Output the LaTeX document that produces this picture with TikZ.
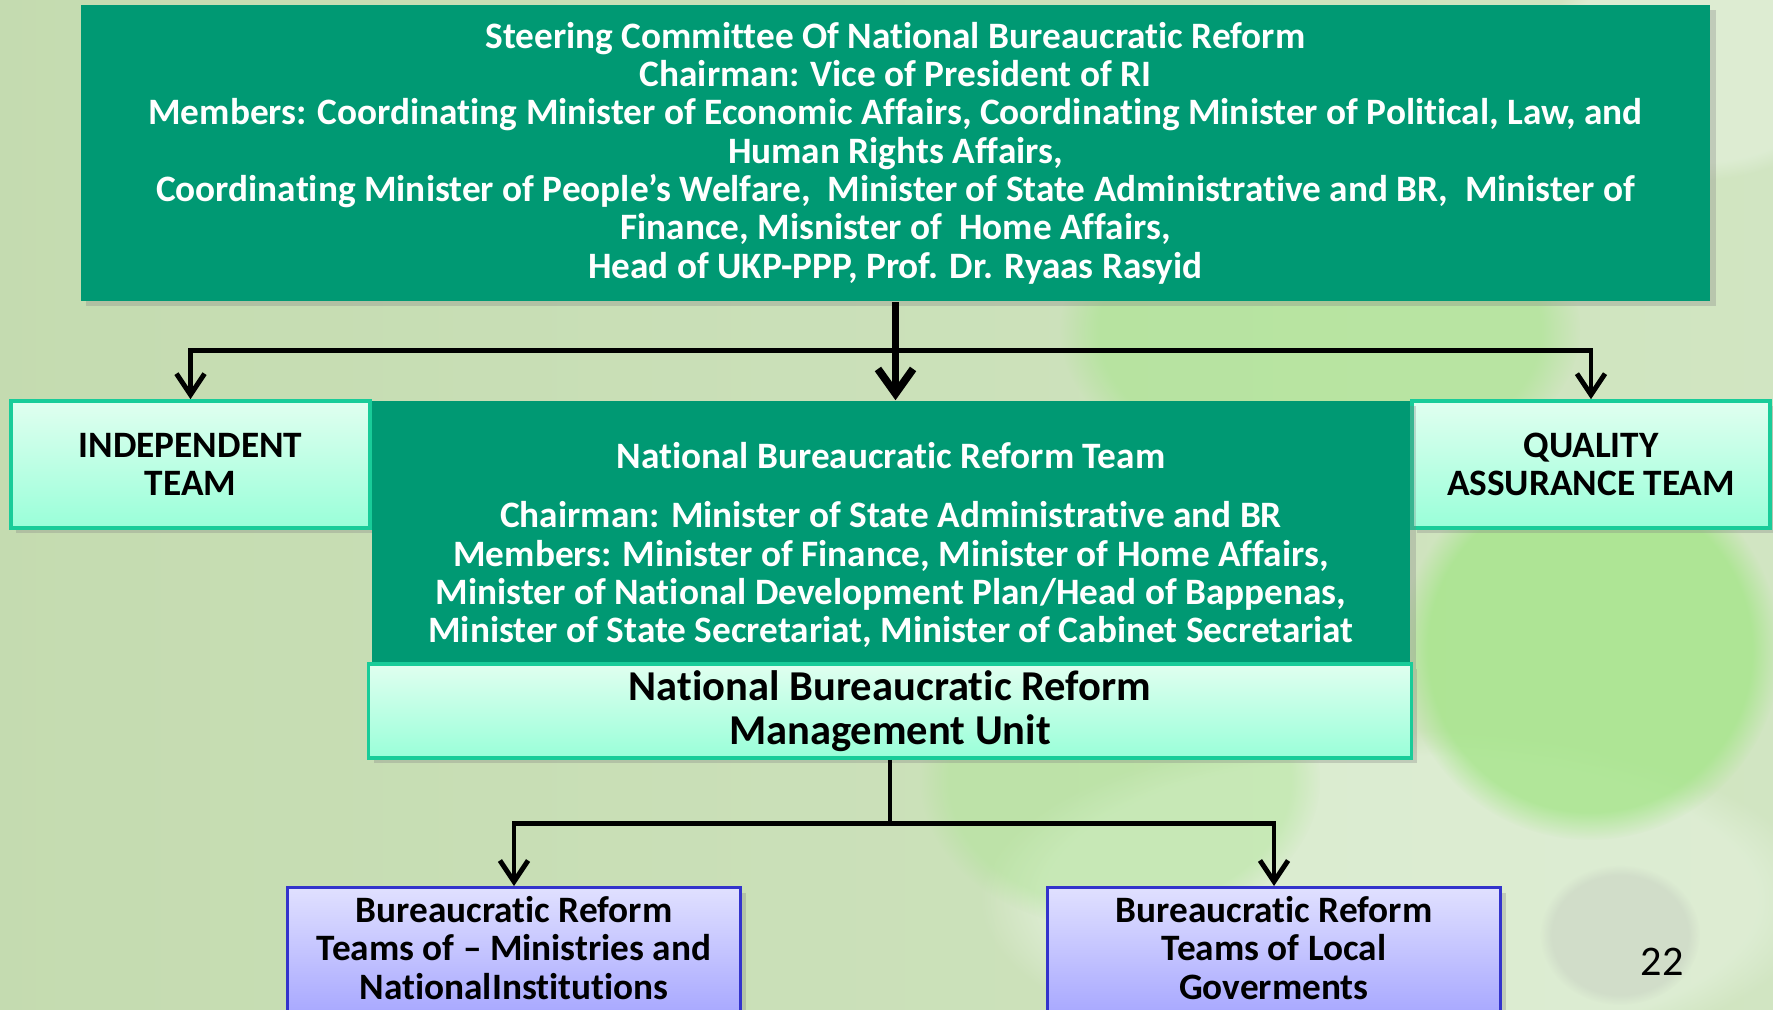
\documentclass[tikz,border=0pt]{standalone}
\usepackage{fontspec}
\setmainfont{Carlito}[Ligatures=NoCommon]
\usetikzlibrary{arrows.meta,shadows,fadings,calc}
\definecolor{darkg}{rgb}{0,0.6,0.45}
\definecolor{mintt}{rgb}{0.88,1,0.94}
\definecolor{mintb}{rgb}{0.6,1,0.85}
\definecolor{mintl}{rgb}{0.1,0.8,0.6}
\definecolor{lilact}{rgb}{0.88,0.88,1}
\definecolor{lilacb}{rgb}{0.6,0.6,1}
\definecolor{lilacl}{rgb}{0.2,0.2,0.8}
\definecolor{bgleft}{rgb}{0.77,0.86,0.69}
\definecolor{bgright}{rgb}{0.82,0.9,0.76}
\definecolor{leafg}{rgb}{0.64,0.9,0.53}
\definecolor{palew}{rgb}{0.9,0.95,0.87}
\definecolor{shadowp}{rgb}{0.58,0.55,0.6}

\tikzset{
  boxshadow/.style={drop shadow={opacity=0.3,shadow xshift=1.5pt,shadow yshift=-1.5pt}},
  greenbox/.style={rectangle,fill=darkg,text=white,align=center,inner sep=0pt,boxshadow},
  mintbox/.style={rectangle,draw=mintl,line width=1pt,top color=mintt,bottom color=mintb,
    align=center,inner sep=0pt,font=\bfseries\fontsize{10.6}{10.9}\selectfont,boxshadow},
  lilacbox/.style={rectangle,draw=lilacl,line width=0.8pt,top color=lilact,bottom color=lilacb,
    inner sep=0pt,boxshadow},
  boxtext/.style={align=center,inner sep=0pt,font=\bfseries\fontsize{10.6}{10.9}\selectfont},
  link/.style={line width=1.4pt,-{Straight Barb[length=6pt,width=8pt]}},
  mainlink/.style={line width=2.2pt,-{Straight Barb[length=7pt,width=10pt]}}
}

\begin{document}
\begin{tikzpicture}[x=0.01cm,y=-0.01cm]
% background with blurred leaves
\fill[left color=bgleft,right color=bgright] (0,0) rectangle (1773,1009);
\useasboundingbox (0,0) rectangle (1773,1009);
\fill[palew,opacity=0.6,path fading=circle with fuzzy edge 15 percent] (1400,900) ellipse (420 and 170);
\fill[palew,opacity=0.6,path fading=circle with fuzzy edge 15 percent] (1700,60) ellipse (160 and 120);
\fill[leafg,opacity=0.75,path fading=circle with fuzzy edge 15 percent] (1590,650) ellipse (190 and 190);
\fill[leafg,opacity=0.5,path fading=circle with fuzzy edge 15 percent] (1320,330) ellipse (260 and 160);
\fill[leafg,opacity=0.35,path fading=circle with fuzzy edge 15 percent] (1120,780) ellipse (200 and 150);
\fill[shadowp,opacity=0.15,path fading=circle with fuzzy edge 15 percent] (1620,935) ellipse (80 and 70);

% boxes
\node[greenbox,minimum width=16.29cm,minimum height=2.96cm,
  font=\bfseries\fontsize{10.6}{10.9}\selectfont] (steer) at (895.5,153) {%
  Steering Committee Of National Bureaucratic Reform\\
  Chairman: Vice of President of RI\\
  Members: Coordinating Minister of Economic Affairs, Coordinating Minister of Political, Law, and\\
  Human Rights Affairs,\\
  Coordinating Minister of People’s Welfare,\ \ Minister of State Administrative and BR,\ \ Minister of\\
  Finance, Misnister of\ \ Home Affairs,\\
  Head of UKP-PPP, Prof. Dr. Ryaas Rasyid};
\node[mintbox,minimum width=3.59cm,minimum height=1.27cm] (indep) at (190.5,464.5) {INDEPENDENT\\TEAM};
\node[mintbox,minimum width=3.58cm,minimum height=1.27cm] (qa) at (1591,464.5) {QUALITY\\ASSURANCE TEAM};
\node[greenbox,minimum width=10.38cm,minimum height=2.63cm] (nbrt) at (891,532.5) {};
\node[boxtext,text=white] (nbrttxt) at (891,545) {%
  National Bureaucratic Reform Team\\[0.21cm]
  Chairman: Minister of State Administrative and BR\\
  Members: Minister of Finance, Minister of Home Affairs,\\
  Minister of National Development Plan/Head of Bappenas,\\
  Minister of State Secretariat, Minister of Cabinet Secretariat};
\node[mintbox,minimum width=10.42cm,minimum height=0.94cm,
  font=\bfseries\fontsize{12.1}{12.5}\selectfont] (mgmt) at (890,711) {%
  National Bureaucratic Reform\\Management Unit};
\node[lilacbox,minimum width=4.53cm,minimum height=1.6cm,anchor=north] (brmin) at (514,886) {};
\node[boxtext] (brmintxt) at (514,948) {Bureaucratic Reform\\Teams of – Ministries and\\NationalInstitutions};
\node[lilacbox,minimum width=4.53cm,minimum height=1.6cm,anchor=north] (brloc) at (1274,886) {};
\node[boxtext] (brloctxt) at (1274,948) {Bureaucratic Reform\\Teams of Local\\Goverments};
\node[font=\fontsize{12}{14}\selectfont] (page) at (1662,962) {22};

% connectors
\coordinate (split) at ($(steer.south)+(0,49)$);
\draw[mainlink] (steer.south) -- (steer.south |- nbrt.north);
\draw[link] (split) -| (indep.north);
\draw[link] (split) -| (qa.north);
\coordinate (fork) at ($(mgmt.south)+(0,64)$);
\draw[line width=1.4pt] (mgmt.south) -- (fork);
\draw[link] (fork) -| (brmin.north);
\draw[link] (fork) -| (brloc.north);
\end{tikzpicture}
\end{document}
